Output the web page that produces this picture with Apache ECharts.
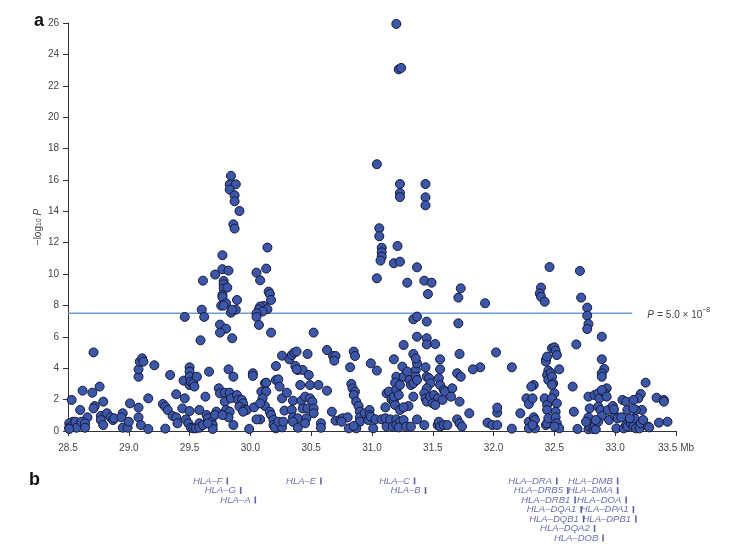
<!DOCTYPE html>
<html><head><meta charset="utf-8">
<script src="https://cdn.jsdelivr.net/npm/echarts@6/dist/echarts.min.js"></script>
<style>html,body{margin:0;padding:0;background:#fff}#c{width:739px;height:551px}</style>
</head><body><div id="c"></div>
<script>
// SNP association results: [position (Mb), -log10 P]
const snpPoints = [
[28.71,5.01],[28.53,1.98],[28.62,2.57],[28.70,2.44],[28.76,2.83],[28.72,1.59],[28.71,1.44],[28.79,1.87],[28.60,1.34],[28.66,0.87],
[28.54,0.59],[28.51,0.49],[28.51,0.21],[28.53,0.28],[28.56,0.59],[28.57,0.21],[28.61,0.59],[28.64,0.49],[28.64,0.21],[28.51,0.13],
[28.77,0.96],[28.77,0.70],[28.79,0.38],[28.82,1.13],[28.85,0.87],[28.87,0.70],[28.88,0.81],[28.95,1.13],[28.94,0.87],[28.95,0.21],
[28.99,0.21],[29.00,0.59],[29.01,1.76],[29.08,3.46],[29.08,3.93],[29.09,4.42],[29.11,4.63],[29.12,4.42],[29.08,1.49],[29.08,0.87],
[29.10,0.38],[29.16,2.08],[29.16,0.13],[29.21,4.19],[29.30,0.15],[29.28,1.72],[29.30,1.55],[29.32,1.34],[29.36,0.96],[29.39,0.87],
[29.40,0.49],[29.34,3.57],[29.39,2.34],[29.45,3.21],[29.46,2.08],[29.44,1.44],[29.47,0.74],[29.49,0.49],[29.51,0.21],[29.53,0.17],
[29.55,0.17],[29.58,0.49],[29.58,0.21],[29.61,0.38],[29.50,4.06],[29.50,3.78],[29.50,3.46],[29.50,2.93],[29.51,3.14],[29.53,3.04],
[29.54,2.83],[29.56,3.46],[29.50,1.27],[29.58,1.34],[29.63,2.19],[29.66,3.78],[29.64,1.02],[29.65,0.81],[29.68,0.59],[29.69,0.38],
[29.69,0.13],[29.65,0.49],[29.74,2.72],[29.75,2.40],[29.79,2.44],[29.79,1.87],[29.83,2.44],[29.80,1.34],[29.83,1.23],[29.84,2.08],
[29.82,0.87],[29.72,1.23],[29.71,1.02],[29.77,1.02],[29.82,3.93],[29.86,3.46],
[29.84,16.26],[29.83,15.72],[29.88,15.72],[29.83,15.38],[29.87,15.02],[29.87,14.64],[29.91,14.02],[29.86,13.17],[29.87,12.90],[29.77,11.20],
[29.77,10.31],[29.82,10.22],[29.71,9.97],[29.61,9.58],[29.78,9.56],[29.78,9.35],[29.78,9.09],[29.81,9.14],[29.77,8.67],[29.77,8.54],
[29.89,8.35],[29.80,8.14],[29.76,7.99],[29.78,7.99],[29.60,7.73],[29.88,7.73],[29.84,7.54],[29.85,7.73],[29.46,7.27],[29.62,7.27],
[29.75,6.78],[29.80,6.52],[29.75,6.27],[29.85,5.91],[29.59,5.78],[30.14,11.69],[30.13,10.35],[30.05,10.09],[30.08,9.60],[30.15,8.88],
[30.16,8.73],[30.17,8.35],[30.11,7.97],[30.08,7.93],[30.14,7.76],[30.07,7.76],[30.10,7.61],[30.05,7.50],[30.05,7.27],[30.07,6.76],
[30.17,6.27],
[30.52,6.27],[29.89,2.29],[29.90,1.98],[29.93,1.98],[29.94,1.76],[29.91,1.55],[29.95,1.38],[29.97,1.34],[30.03,1.51],[29.94,1.23],
[29.86,0.38],[29.99,0.13],[30.02,3.68],[30.02,3.51],[30.08,0.74],[30.05,0.74],[30.09,2.51],[30.12,3.04],[30.13,3.08],[30.13,2.51],
[30.10,2.08],[30.12,1.59],[30.08,1.76],[30.16,1.23],[30.17,1.02],[30.19,0.70],[30.19,0.38],[30.21,0.17],[30.20,0.23],[30.26,0.23],
[30.23,0.59],[30.27,0.59],[30.21,4.14],[30.21,3.25],[30.23,3.29],[30.24,2.83],[30.26,2.08],[30.28,1.30],[30.30,2.44],[30.26,4.80],
[30.32,4.57],[30.34,4.84],[30.36,4.99],[30.38,5.06],[30.37,4.14],[30.39,3.89],[30.43,3.89],[30.38,3.93],[30.47,4.91],[30.48,3.57],
[30.41,2.93],[30.49,2.93],[30.56,2.93],[30.35,1.93],[30.42,1.93],[30.45,2.19],[30.49,2.08],[30.51,1.87],[30.43,1.44],[30.47,1.44],
[30.52,1.44],[30.52,1.13],[30.34,1.34],[30.35,0.87],[30.39,0.81],[30.35,0.59],[30.39,0.21],[30.46,0.81],[30.45,0.49],[30.58,0.49],
[30.58,0.21],[30.63,5.16],[30.68,4.78],[30.70,4.78],[30.69,4.48],[30.63,2.57],[30.67,1.23],[30.70,0.66],[30.74,0.74],[30.76,0.81],
[30.80,0.87],[30.75,0.59],[30.81,0.17],[30.82,4.06],[30.85,5.06],[30.86,4.78],[30.83,3.00],[30.84,2.72],[30.86,2.51],[30.85,2.29],
[30.87,1.87],[30.89,1.59],[30.90,1.23],[30.90,0.87],[30.90,0.59],[30.87,0.17],[30.85,0.32],[30.94,1.13],[30.98,1.34],[30.98,1.02],
[30.97,0.70],[30.99,0.91],[31.01,0.17],[31.03,0.74],[30.99,4.31],[31.04,3.85],[31.08,0.74],[31.11,0.81],[31.12,0.28],[31.15,0.74],
[31.17,0.28],[31.20,0.74],[31.20,0.38],[31.23,0.59],[31.22,0.23],[31.11,1.51],[31.12,2.40],[31.14,2.51],[31.16,2.02],[31.18,1.87],
[31.19,1.66],[31.18,2.19],[31.20,3.46],[31.19,3.08],[31.20,2.61],[31.23,2.93],[31.22,2.29],[31.18,4.57],[31.25,4.10],[31.26,3.46],
[31.26,5.48],
[31.20,25.94],[31.22,23.05],[31.24,23.14],[31.04,17.00],[31.23,15.74],[31.23,15.17],[31.23,14.91],[31.44,15.74],[31.44,14.89],[31.44,14.38],
[31.06,12.92],[31.06,12.41],[31.08,11.68],[31.08,11.39],[31.08,11.11],[31.07,10.86],[31.21,11.79],[31.18,10.69],[31.23,10.79],[31.04,9.73],
[31.37,10.43],[31.29,9.45],[31.43,9.58],[31.49,9.45],[31.46,8.73],[31.73,9.09],[31.71,8.50],[31.93,8.14],[31.34,7.12],[31.37,7.29],
[31.45,6.97],[31.71,6.86],[31.37,6.01],[31.45,5.91],[31.45,5.52],[31.52,5.54],[31.72,4.91],[32.02,5.01],[31.89,4.06],[31.83,3.93],
[32.15,4.06],[31.29,3.78],[31.31,3.25],[31.32,2.93],[31.34,3.04],[31.36,3.89],[31.36,3.46],[31.37,4.31],[31.37,3.25],[31.34,4.91],
[31.36,4.63],[31.44,4.06],[31.45,3.46],[31.47,3.36],[31.48,3.04],[31.45,2.72],[31.43,2.40],[31.44,2.08],[31.45,1.87],[31.48,2.19],
[31.51,2.29],[31.54,2.08],[31.56,4.57],[31.56,3.93],[31.55,3.36],[31.56,2.93],[31.58,1.98],[31.59,2.61],[31.60,2.51],[31.66,2.72],
[31.65,2.19],[31.70,3.68],[31.73,3.46],[31.72,1.87],[31.80,1.13],[31.30,1.59],[31.23,1.34],[31.34,2.19],[31.37,0.74],[31.43,0.38],
[31.50,1.76],[31.52,1.66],[31.54,0.38],[31.55,0.59],[31.56,0.28],[31.59,0.38],[31.62,0.38],[31.26,0.70],[31.28,0.28],[31.32,0.28],
[31.70,0.74],[31.72,0.49],[31.74,0.28],[31.95,0.53],[31.99,0.38],[32.03,0.38],[32.03,1.17],[32.03,1.49],[32.15,0.15],[32.22,1.13],
[32.27,2.08],[32.29,1.72],[32.32,2.08],[32.33,2.93],[32.31,2.83],[32.29,0.59],[32.29,0.17],[32.33,0.87],[32.34,0.70],[32.34,0.17],
[32.32,0.38],[32.42,2.08],[32.44,1.66],[32.44,1.34],[32.43,0.38],[32.44,0.49],[32.45,0.81],[32.43,4.53],[32.43,4.42],[32.44,4.74],
[32.48,5.27],[32.50,5.33],[32.51,5.12],[32.52,4.84],[32.45,3.85],[32.44,3.57],[32.47,3.68],[32.45,3.25],[32.48,3.46],[32.49,3.04],
[32.48,2.93],[32.50,2.40],[32.48,2.08],[32.52,1.76],[32.54,3.93],[32.51,1.23],[32.51,0.87],[32.52,0.49],[32.54,0.17],[32.50,0.28],
[32.65,2.83],[32.66,1.23],[31.26,1.51],
[32.69,0.13],[32.78,0.11],[32.79,0.28],[32.82,0.13],[32.83,0.28],[32.84,0.11],[32.78,2.19],[32.79,1.44],[32.78,0.87],[32.76,0.59],
[32.83,2.29],[32.86,2.40],[32.87,2.08],[32.86,1.55],[32.88,1.34],[32.89,0.96],[32.86,0.59],[32.84,0.70],[32.93,2.72],[32.91,2.44],
[32.89,2.61],[32.93,2.19],[32.94,1.34],[32.95,0.70],[32.98,1.59],[33.00,0.96],[32.99,1.38],[33.01,0.17],[33.02,0.81],[33.05,0.87],
[33.06,1.98],[33.09,1.87],[33.07,0.17],[33.09,0.38],[33.10,0.28],[33.13,0.49],[33.15,0.28],[33.16,0.81],[33.17,0.17],[33.20,0.17],
[33.21,0.49],[33.23,0.70],[33.22,1.34],[33.21,2.36],[33.19,2.08],[33.17,1.34],[33.15,1.98],[33.10,1.34],[33.12,0.81],[33.15,1.44],
[33.27,0.28],[33.28,0.23],
[32.46,10.45],[32.39,9.14],[32.38,8.77],[32.39,8.56],[32.42,8.24],[32.71,10.20],[32.72,8.50],[32.77,7.86],[32.77,7.35],[32.78,6.82],
[32.77,6.50],[32.89,6.01],[32.68,5.52],[32.89,4.57],[32.91,3.95],[32.89,3.68],[32.89,3.46],[33.25,3.08],[33.34,2.12],[33.40,1.98],
[33.40,1.87],[33.36,0.53],[33.43,0.59]
];

// Significance threshold
const thresholdLogP = 7.5;
const thresholdSpanMb = [28.5, 33.14];
const thresholdMantissa = '= 5.0 × 10';
const thresholdExponent = '−8';

// Genes (name, position in Mb, label row)
const geneNames = ['HLA–F','HLA–G','HLA–A','HLA–E','HLA–C','HLA–B','HLA–DRA','HLA–DMB','HLA–DRB5','HLA–DMA','HLA–DRB1','HLA–DOA','HLA–DQA1','HLA–DPA1','HLA–DQB1','HLA–DPB1','HLA–DQA2','HLA–DOB'];
const geneMb = [29.81,29.92,30.04,30.58,31.35,31.44,32.52,33.02,32.61,33.02,32.67,33.09,32.72,33.15,32.74,33.17,32.83,32.90];
const geneRow = [0,1,2,0,0,1,0,0,1,1,2,2,3,3,4,4,5,6];

// Axes
const xMin = 28.5, xMax = 33.5, xStep = 0.5, xUnit = 'Mb';
const yMin = 0, yMax = 26, yStep = 2;

const FONT = "'Liberation Sans', Arial, Helvetica, sans-serif";
const chart = echarts.init(document.getElementById('c'));
chart.setOption({
  animation: false,
  backgroundColor: '#fff',
  grid: [
    {left: 68, right: 63, top: 23, bottom: 120},
    {left: 68, right: 63, top: 476.25, height: 66.5}
  ],
  xAxis: [
    {gridIndex: 0, type: 'value', min: xMin, max: xMax, interval: xStep,
     axisLine: {onZero: false, lineStyle: {color: '#333', width: 1}},
     axisTick: {length: 5, lineStyle: {color: '#333'}},
     axisLabel: {margin: 12, color: '#444', fontSize: 10, fontFamily: FONT,
       formatter: v => (Math.abs(v - xMax) < 1e-9 ? v.toFixed(1) + ' ' + xUnit : v.toFixed(1))},
     splitLine: {show: false}},
    {gridIndex: 1, type: 'value', min: xMin, max: xMax, show: false}
  ],
  yAxis: [
    {gridIndex: 0, type: 'value', min: yMin, max: yMax, interval: yStep,
     axisLine: {show: true, lineStyle: {color: '#333', width: 1}},
     axisTick: {show: true, length: 5, lineStyle: {color: '#333'}},
     axisLabel: {margin: 9, color: '#444', fontSize: 10, fontFamily: FONT},
     splitLine: {show: false},
     name: '{a|−log}{s|10}{a| }{p|P}', nameLocation: 'middle', nameGap: 25, nameRotate: 90,
     nameMoveOverlap: false,
     nameTextStyle: {color: '#444', fontFamily: FONT,
       rich: {a: {fontSize: 10, fontFamily: FONT, color: '#444', verticalAlign: 'bottom', lineHeight: 12},
              s: {fontSize: 7, fontFamily: FONT, color: '#444', verticalAlign: 'bottom', lineHeight: 8},
              p: {fontSize: 10, fontFamily: FONT, color: '#444', fontStyle: 'italic', verticalAlign: 'bottom', lineHeight: 12}}}},
    {gridIndex: 1, type: 'value', min: -0.5, max: 6.5, inverse: true, show: false}
  ],
  series: [
    {type: 'line', xAxisIndex: 0, yAxisIndex: 0, z: 1,
     data: thresholdSpanMb.map(m => [m, thresholdLogP]),
     symbol: 'none', lineStyle: {color: '#6d9dd3', width: 1.6},
     endLabel: {show: true, distance: 15,
       formatter: () => '{p|P} {t|' + thresholdMantissa + '}{s|' + thresholdExponent + '}',
       rich: {p: {fontSize: 10, fontStyle: 'italic', color: '#444', fontFamily: FONT, lineHeight: 14, verticalAlign: 'bottom'},
              t: {fontSize: 10, color: '#444', fontFamily: FONT, lineHeight: 14, verticalAlign: 'bottom'},
              s: {fontSize: 7, color: '#444', fontFamily: FONT, lineHeight: 8, verticalAlign: 'top'}}}},
    {type: 'scatter', xAxisIndex: 0, yAxisIndex: 0, z: 3,
     data: snpPoints, symbol: 'circle', symbolSize: 9,
     itemStyle: {color: '#3c57a8', borderColor: '#15193a', borderWidth: 1, opacity: 1}},
    {type: 'scatter', xAxisIndex: 1, yAxisIndex: 1, z: 3,
     data: geneMb.map((m, i) => [m, geneRow[i], geneNames[i]]),
     symbol: 'rect', symbolSize: [1.6, 7],
     itemStyle: {color: '#3a3d8c'},
     label: {show: true, position: 'left', distance: 4, formatter: p => p.data[2],
       fontStyle: 'italic', fontSize: 9.5, color: '#454a98', fontFamily: FONT}}
  ],
  graphic: [
    {type: 'text', left: 34, top: 12, style: {text: 'a', font: 'bold 18px ' + FONT, fill: '#111'}},
    {type: 'text', left: 29, top: 471, style: {text: 'b', font: 'bold 18px ' + FONT, fill: '#111'}}
  ]
});
</script>
</body></html>
